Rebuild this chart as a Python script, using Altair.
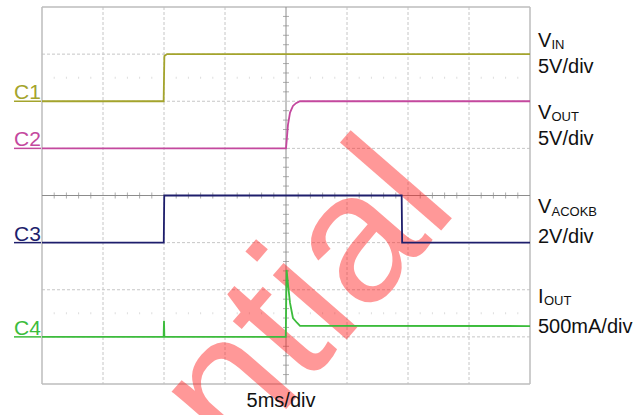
import altair as alt
import numpy as np
import pandas as pd

# ---- captured traces (time in ms, 5 ms per division) ----
vin_t = [0, 9.97, 10.03, 10.25, 40]
vin_v = [0, 0, 4.8, 5.0, 5.0]                       # volts

vout_t = [0, 20.0, 20.08, 20.16, 20.33, 20.57, 20.82, 21.15, 40]
vout_v = [0, 0, 1.2, 2.5, 3.8, 4.5, 4.8, 5.0, 5.0]  # volts

acokb_t = [0, 9.98, 10.02, 29.48, 29.52, 40]
acokb_v = [0, 0, 2.0, 2.0, 0, 0]                    # volts

iout_t = [0, 9.97, 10.0, 10.03, 19.98, 20.05, 20.16, 20.33, 20.57, 20.9, 21.15, 40]
iout_ma = [0, 0, 170, 0, 0, 710, 560, 360, 200, 150, 117, 115]  # mA

# ---- channel settings ----
channels = ["C1", "C2", "C3", "C4"]
signal_names = ["V", "V", "V", "I"]
subscripts = ["IN", "OUT", "ACOKB", "OUT"]
per_div = [5.0, 5.0, 2.0, 500.0]
scale_text = ["5V/div", "5V/div", "2V/div", "500mA/div"]
ground_div = [6, 5, 3, 1]
trace_colors = ["#a4a42c", "#c4489e", "#1e1e6c", "#3cbc3c"]
label_colors = ["#c89a00", "#c43cc0", "#1c2c80", "#30cc30"]

time_base = "5ms/div"

# graticule: 8 x 8 divisions
x_grid = [0, 5, 10, 15, 20, 25, 30, 35, 40]
y_grid = [0, 1, 2, 3, 4, 5, 6, 7, 8]

W, H = 488, 377
PAD_L, PAD_T = 42, 7
SANS = "Liberation Sans, Arial, sans-serif"

series = [(vin_t, vin_v), (vout_t, vout_v), (acokb_t, acokb_v), (iout_t, iout_ma)]
rows = []
for k, (ts, vs) in enumerate(series):
    for i, (t, v) in enumerate(zip(ts, vs)):
        rows.append({"t": t, "div": ground_div[k] + v / per_div[k], "ch": channels[k], "i": i})
traces = pd.DataFrame(rows)

xs = alt.Scale(domain=[0, 40], nice=False, zero=False)
ys = alt.Scale(domain=[0, 8], nice=False, zero=False)

# ---- graticule ----
inner_x = pd.DataFrame({"t": [v for v in x_grid if v not in (0, 20, 40)]})
inner_y = pd.DataFrame({"d": [v for v in y_grid if v not in (0, 4, 8)]})
vgrid = alt.Chart(inner_x).mark_rule(color="#c6c6c6", strokeWidth=1, strokeDash=[3, 2]).encode(
    x=alt.X("t:Q", scale=xs, axis=None))
hgrid = alt.Chart(inner_y).mark_rule(color="#c6c6c6", strokeWidth=1, strokeDash=[3, 2]).encode(
    y=alt.Y("d:Q", scale=ys, axis=None))
border_x = alt.Chart(pd.DataFrame({"t": [0, 40]})).mark_rule(color="#bdbdbd", strokeWidth=1.5).encode(
    x=alt.X("t:Q", scale=xs, axis=None))
border_y = alt.Chart(pd.DataFrame({"d": [0, 8]})).mark_rule(color="#bdbdbd", strokeWidth=1.5).encode(
    y=alt.Y("d:Q", scale=ys, axis=None))
center_x = alt.Chart(pd.DataFrame({"t": [20]})).mark_rule(color="#8c8c8c", strokeWidth=1).encode(
    x=alt.X("t:Q", scale=xs, axis=None))
center_y = alt.Chart(pd.DataFrame({"d": [4]})).mark_rule(color="#8c8c8c", strokeWidth=1).encode(
    y=alt.Y("d:Q", scale=ys, axis=None))

minor_t = [t for t in np.arange(0, 40.01, 1.0) if t % 5 != 0]
minor_d = [round(d, 2) for d in np.arange(0, 8.001, 0.2) if abs(d - round(d)) > 1e-6]
ticks_h = alt.Chart(pd.DataFrame({"t": minor_t, "d": 4})).mark_tick(
    orient="vertical", size=6, thickness=1, color="#8c8c8c").encode(
    x=alt.X("t:Q", scale=xs, axis=None), y=alt.Y("d:Q", scale=ys, axis=None))
ticks_v = alt.Chart(pd.DataFrame({"t": 20, "d": minor_d})).mark_tick(
    orient="horizontal", size=6, thickness=1, color="#8c8c8c").encode(
    x=alt.X("t:Q", scale=xs, axis=None), y=alt.Y("d:Q", scale=ys, axis=None))
dots = alt.Chart(pd.DataFrame({
    "t": minor_t * 2, "d": [1.5] * len(minor_t) + [6.5] * len(minor_t)})).mark_tick(
    orient="vertical", size=2, thickness=1, color="#cfcfcf").encode(
    x=alt.X("t:Q", scale=xs, axis=None), y=alt.Y("d:Q", scale=ys, axis=None))

# ---- watermark ----
watermark = alt.Chart(pd.DataFrame({"w": ["Confidential"]})).mark_text(
    angle=311, align="right", baseline="alphabetic", fontSize=185,
    font=SANS, color="#ff2020", opacity=0.46).encode(
    text="w:N", x=alt.value(418), y=alt.value(202))

# ---- traces ----
lines = alt.Chart(traces).mark_line(strokeWidth=1.8, interpolate="linear").encode(
    x=alt.X("t:Q", scale=xs, axis=None),
    y=alt.Y("div:Q", scale=ys, axis=None),
    color=alt.Color("ch:N", scale=alt.Scale(domain=channels, range=trace_colors), legend=None),
    detail="ch:N",
    order="i:Q",
)

# ---- channel markers on the left ----
marker_df = pd.DataFrame({"ch": channels, "d": ground_div})
marker_color = alt.Color("ch:N", scale=alt.Scale(domain=channels, range=label_colors), legend=None)
marker_text = alt.Chart(marker_df).mark_text(
    align="left", baseline="alphabetic", dy=-2, fontSize=21, font=SANS).encode(
    x=alt.value(-28), y=alt.Y("d:Q", scale=ys, axis=None), text="ch:N", color=marker_color)
marker_line = alt.Chart(marker_df).mark_rule(strokeWidth=1.5).encode(
    x=alt.value(-28), x2=alt.value(-1), y=alt.Y("d:Q", scale=ys, axis=None), color=marker_color)

# ---- signal names and scales on the right ----
name_y = [40, 111.5, 206, 296]
sub_y = [42, 113.5, 209, 298]
scale_y = [66, 137.5, 236, 326]
lx = 538 - PAD_L
one = pd.DataFrame({"a": [0]})
right_layers = []
for k in range(4):
    main_w = 13.5 if signal_names[k] == "V" else 6
    right_layers.append(alt.Chart(one).mark_text(
        text=signal_names[k], align="left", baseline="alphabetic", fontSize=20,
        font=SANS, color="#111111").encode(x=alt.value(lx), y=alt.value(name_y[k])))
    right_layers.append(alt.Chart(one).mark_text(
        text=subscripts[k], align="left", baseline="alphabetic", fontSize=13,
        font=SANS, color="#111111").encode(x=alt.value(lx + main_w), y=alt.value(sub_y[k])))
    right_layers.append(alt.Chart(one).mark_text(
        text=scale_text[k], align="left", baseline="alphabetic", fontSize=20,
        font=SANS, color="#111111").encode(x=alt.value(lx), y=alt.value(scale_y[k])))

time_label = alt.Chart(one).mark_text(
    text=time_base, align="center", baseline="alphabetic", fontSize=20,
    font=SANS, color="#111111").encode(x=alt.value(281 - PAD_L), y=alt.value(407 - PAD_T))

chart = alt.layer(
    vgrid, hgrid, dots, border_x, border_y, center_x, center_y, ticks_h, ticks_v,
    watermark, lines, marker_line, marker_text, *right_layers, time_label,
).properties(
    width=W, height=H,
    autosize=alt.AutoSizeParams(type="none"),
    padding={"left": PAD_L, "top": PAD_T, "right": 643 - PAD_L - W, "bottom": 415 - PAD_T - H},
    background="white",
).configure_view(stroke=None)

chart.save("out.html", embed_options={"renderer": "svg", "actions": False})
